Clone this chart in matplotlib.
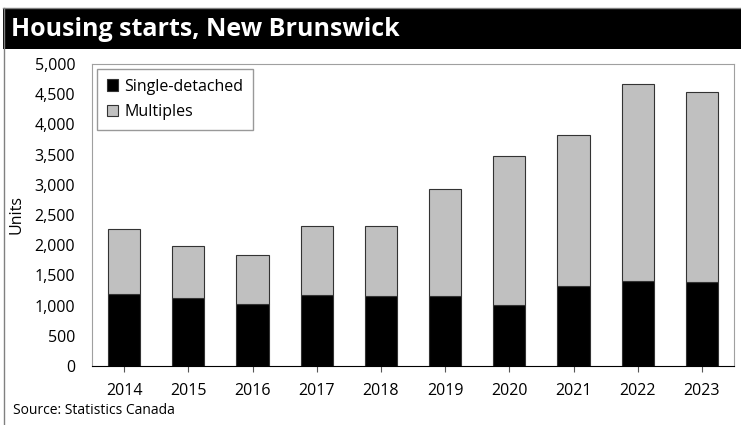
import matplotlib
matplotlib.use("Agg")
import matplotlib.pyplot as plt
from matplotlib.patches import Rectangle
import numpy as np

years = ["2014", "2015", "2016", "2017", "2018", "2019", "2020", "2021", "2022", "2023"]
single_detached = [1190, 1120, 1030, 1170, 1155, 1155, 1010, 1320, 1410, 1390]
totals = [2275, 1990, 1830, 2325, 2325, 2935, 3475, 3820, 4665, 4530]
multiples = [t - s for t, s in zip(totals, single_detached)]

plt.rcParams['font.family'] = ['Open Sans', 'DejaVu Sans']

W, H = 741, 425
fig = plt.figure(figsize=(W / 100, H / 100), dpi=100)

# title band
fig.patches.append(Rectangle((3 / W, 1 - 49 / H), 1 - 3 / W, 41 / H,
                             transform=fig.transFigure, facecolor='black',
                             edgecolor='none'))
fig.lines.append(plt.Line2D([3 / W, 1], [1 - 7.5 / H, 1 - 7.5 / H],
                            transform=fig.transFigure, color='#808080', lw=1))
fig.lines.append(plt.Line2D([3.5 / W, 3.5 / W], [0, 1 - 8 / H],
                            transform=fig.transFigure, color='#808080', lw=1))
fig.text(11 / W, 1 - 29 / H, "Housing starts, New Brunswick", color='white',
         fontsize=18, fontweight='bold', va='center', ha='left')

ax = fig.add_axes([92 / W, 1 - 366 / H, (734 - 92) / W, (366 - 64) / H])
x = np.arange(len(years))
ax.bar(x, single_detached, width=0.5, color='black', edgecolor='#333333',
       linewidth=0.8, label='Single-detached')
ax.bar(x, multiples, width=0.5, bottom=single_detached, color='#c0c0c0',
       edgecolor='#333333', linewidth=0.8, label='Multiples')

ax.set_xlim(-0.5, len(years) - 0.5)
ax.set_ylim(0, 5000)
ax.set_yticks(range(0, 5001, 500))
ax.set_yticklabels([f"{v:,}" for v in range(0, 5001, 500)])
ax.set_xticks(x)
ax.set_xticklabels(years)
ax.tick_params(axis='y', length=0, labelsize=11.5, pad=12)
ax.tick_params(axis='x', length=4, color='#555555', labelsize=11.5, pad=8)
for side in ['left', 'top', 'right']:
    ax.spines[side].set_color('#a0a0a0')
ax.spines['bottom'].set_color('black')
ax.set_ylabel("Units", fontsize=11.5)
ax.yaxis.set_label_coords(-68 / (734 - 92), 0.5)

leg = ax.legend(loc='upper left', bbox_to_anchor=(5 / 642, 1 - 5 / 302),
                fancybox=False, edgecolor='#808080', fontsize=11.5,
                handlelength=0.7, handleheight=0.7, handletextpad=0.4,
                borderpad=0.6, labelspacing=0.6, borderaxespad=0)
leg.get_frame().set_linewidth(1)

fig.text(13 / W, 1 - 411 / H, "Source: Statistics Canada", fontsize=10,
         va='center', ha='left')

fig.savefig("out.png", dpi=100)
